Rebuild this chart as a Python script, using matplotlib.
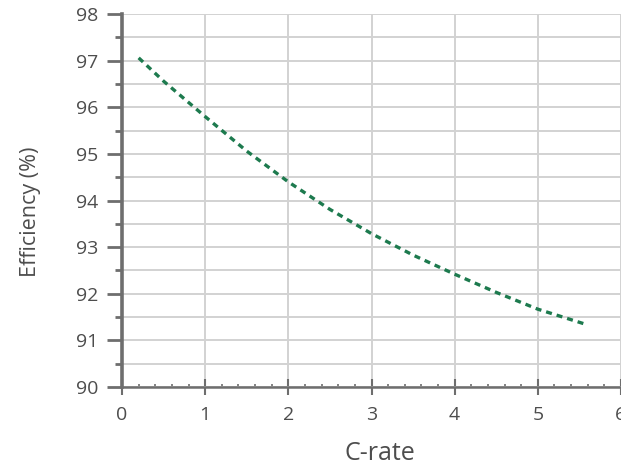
import numpy as np
import matplotlib
matplotlib.use('Agg')
import matplotlib.pyplot as plt
from matplotlib.ticker import MultipleLocator

# data
c_rate = [0.2, 0.5, 1.0, 1.5, 2.0, 2.5, 3.0, 3.5, 4.0, 4.5, 5.0, 5.55]
efficiency = [97.06, 96.56, 95.8, 95.06, 94.4, 93.81, 93.29, 92.83, 92.42, 92.03, 91.67, 91.36]

plt.rcParams['font.family'] = ['Open Sans', 'DejaVu Sans']
text_col = '#4d4d4d'
axis_col = '#6e6e6e'

fig = plt.figure(figsize=(6.21, 4.68), dpi=100)
ax = fig.add_axes([0.1965, 0.173, 0.8035, 0.797])

ax.plot(c_rate, efficiency, color='#1d7a4e', linewidth=2.4, linestyle=(0, (1.8, 1.5)), zorder=3)

ax.set_xlim(0, 6)
ax.set_ylim(90, 98)
ax.xaxis.set_major_locator(MultipleLocator(1))
ax.xaxis.set_minor_locator(MultipleLocator(0.2))
ax.yaxis.set_major_locator(MultipleLocator(1))
ax.yaxis.set_minor_locator(MultipleLocator(0.5))

ax.grid(which='major', color='#d2d2d2', linewidth=1.4)
ax.grid(which='minor', axis='y', color='#d2d2d2', linewidth=1.4)
ax.set_axisbelow(True)

for s in ['top', 'right']:
    ax.spines[s].set_visible(False)
ax.spines['left'].set_color(axis_col)
ax.spines['left'].set_linewidth(2.6)
ax.spines['bottom'].set_color(axis_col)
ax.spines['bottom'].set_linewidth(1.8)

ax.tick_params(axis='y', which='major', direction='out', length=11, width=2, color=axis_col,
               labelsize=14, labelcolor=text_col, pad=6)
ax.tick_params(axis='y', which='minor', direction='out', length=5, width=2, color=axis_col)
ax.tick_params(axis='x', which='major', direction='inout', length=11, width=1.5, color=axis_col,
               labelsize=14, labelcolor=text_col, pad=8)
ax.tick_params(axis='x', which='minor', direction='in', length=2.5, width=1.2, color=axis_col)

ax.set_xlabel('C-rate', fontsize=18, color=text_col)
ax.set_ylabel('Efficiency (%)', fontsize=15.5, color=text_col)
ax.xaxis.set_label_coords(0.517, -0.145)
ax.yaxis.set_label_coords(-0.163, 0.47)

fig.savefig('out.png', dpi=100)
